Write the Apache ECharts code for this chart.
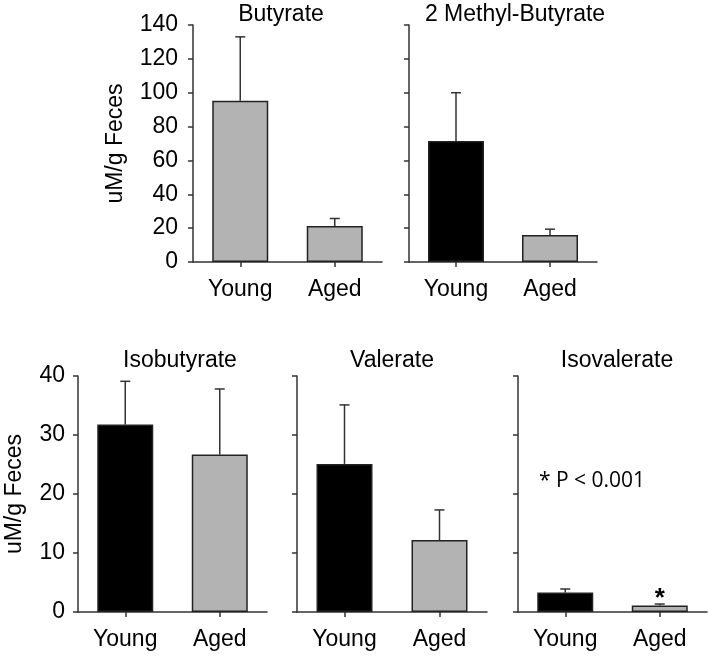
<!DOCTYPE html>
<html>
<head>
<meta charset="utf-8">
<script src="https://cdn.jsdelivr.net/npm/echarts@6/dist/echarts.min.js"></script>
<style>html,body{margin:0;padding:0;background:#fff}#c{width:709px;height:656px}</style>
</head>
<body>
<div id="c"></div>
<script>
var categories = ['Young', 'Aged'];
var titles = ['Butyrate', '2 Methyl-Butyrate', 'Isobutyrate', 'Valerate', 'Isovalerate'];
var butyrate = [95.3, 21.2];
var butyrateErr = [37.7, 4.5];
var methylButyrate = [71.5, 16.0];
var methylButyrateErr = [28.5, 3.4];
var isobutyrate = [31.8, 26.7];
var isobutyrateErr = [7.3, 11.1];
var valerate = [25.1, 12.2];
var valerateErr = [10.0, 5.1];
var isovalerate = [3.3, 1.1];
var isovalerateErr = [0.6, 0.25];
var topTicks = [0, 140, 20];
var bottomTicks = [0, 40, 10];
var yName = 'uM/g Feces';
var pNote = '* P < 0.001';
var sigMark = '*';

var BLACK = '#000000', GRAY = '#b3b3b3';
var panelColors = [[GRAY, GRAY], [BLACK, GRAY], [BLACK, GRAY], [BLACK, GRAY], [BLACK, GRAY]];
var values = [butyrate, methylButyrate, isobutyrate, valerate, isovalerate];
var errs = [butyrateErr, methylButyrateErr, isobutyrateErr, valerateErr, isovalerateErr];

var grids = [
  {left: 193, top: 25, width: 189, height: 237},
  {left: 409, top: 25, width: 188, height: 237},
  {left: 78, top: 376, width: 189, height: 236},
  {left: 297, top: 376, width: 190, height: 236},
  {left: 518, top: 376, width: 189, height: 236}
];
var titlePos = [[276, -2], [510, -2], [175, 344], [387, 344], [612, 344]];
var FONT = 'Liberation Sans, Arial, sans-serif';
var axisLine = {show: true, lineStyle: {color: '#333', width: 1.5}};

var xAxes = [], yAxes = [], series = [], titleArr = [];
for (var i = 0; i < 5; i++) {
  var isTop = i < 2;
  var t = isTop ? topTicks : bottomTicks;
  xAxes.push({
    type: 'category', gridIndex: i, data: categories,
    axisLine: axisLine,
    axisTick: {show: true, alignWithLabel: true, length: 5, lineStyle: {color: '#333', width: 1.5}},
    axisLabel: {color: '#000', fontSize: 23, fontFamily: FONT, margin: 16}
  });
  var showLabels = (i === 0 || i === 2);
  yAxes.push({
    type: 'value', gridIndex: i, min: t[0], max: t[1], interval: t[2],
    splitLine: {show: false},
    axisLine: axisLine,
    axisTick: {show: true, length: 5, lineStyle: {color: '#333', width: 1.5}},
    axisLabel: {show: showLabels, color: '#000', fontSize: 23, fontFamily: FONT, margin: i === 0 ? 15 : 13},
    name: showLabels ? yName : '',
    nameLocation: 'middle',
    nameGap: i === 0 ? 66 : 52,
    nameTextStyle: {color: '#000', fontSize: 23, fontFamily: FONT}
  });
  var barData = values[i].map(function (v, k) {
    var d = {value: v, itemStyle: {color: panelColors[i][k]}};
    if (i === 4 && k === 1) {
      d.label = {show: true, position: 'top', formatter: sigMark, color: '#000', fontSize: 26, fontWeight: 'bold', fontFamily: FONT, distance: -6};
    }
    return d;
  });
  series.push({
    type: 'bar', xAxisIndex: i, yAxisIndex: i, barWidth: 56, z: 3,
    itemStyle: {borderColor: '#222', borderWidth: 1.5},
    data: barData, silent: true
  });
  var ebData = values[i].map(function (v, k) { return [k, v, errs[i][k]]; });
  series.push({
    type: 'custom', xAxisIndex: i, yAxisIndex: i, z: 2, silent: true,
    encode: {x: 0, y: 1},
    data: ebData,
    renderItem: function (params, api) {
      var x = api.value(0), v = api.value(1), e = api.value(2);
      var b = api.coord([x, v]);
      var tp = api.coord([x, v + e]);
      var st = {stroke: '#333', lineWidth: 1.5};
      return {type: 'group', children: [
        {type: 'line', shape: {x1: b[0], y1: b[1], x2: tp[0], y2: tp[1]}, style: st},
        {type: 'line', shape: {x1: tp[0] - 5, y1: tp[1], x2: tp[0] + 5, y2: tp[1]}, style: st}
      ]};
    }
  });
  titleArr.push({
    text: titles[i], left: titlePos[i][0], top: titlePos[i][1], textAlign: 'center',
    textStyle: {color: '#000', fontSize: 23, fontWeight: 'normal', fontFamily: FONT}
  });
}

var chart = echarts.init(document.getElementById('c'), null, {renderer: 'canvas'});
chart.setOption({
  animation: false,
  backgroundColor: '#fff',
  title: titleArr,
  grid: grids,
  xAxis: xAxes,
  yAxis: yAxes,
  series: series,
  graphic: [{
    type: 'text', left: 539, top: 471,
    style: {text: pNote, fill: '#000', fontSize: 21, fontFamily: 'Open Sans, sans-serif'}
  }]
});
</script>
</body>
</html>
